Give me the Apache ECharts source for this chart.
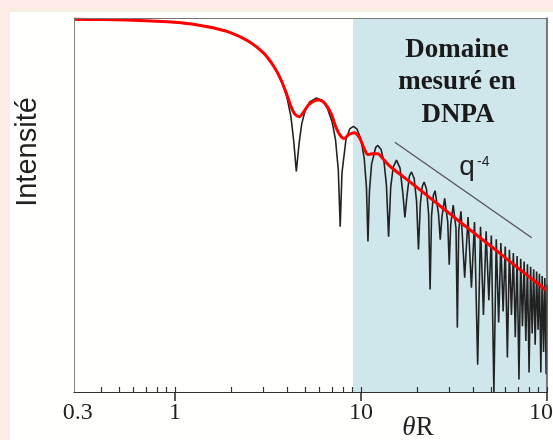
<!DOCTYPE html>
<html><head><meta charset="utf-8">
<script src="https://cdn.jsdelivr.net/npm/echarts@6/dist/echarts.min.js"></script>
<style>html,body{margin:0;padding:0;background:#fdebe5}#c{width:553px;height:440px}</style>
</head><body><div id="c"></div>
<script>
// x: θR (log axis) ; y: log10(Intensité) (no labels on the reference)
const xMin = 0.2864, xMax = 100;
const yMin = -10.08, yMax = 0.03;
const xLabelValues = [0.3, 1, 10, 100];
const majorTicks = [1, 10, 100];
const minorTicks = [0.4,0.5,0.6,0.7,0.8,0.9,1,2,3,4,5,6,7,8,9,10,20,30,40,50,60,70,80,90,100];
const shadeFrom = 9.06, shadeTo = 100;
const yTitle = 'Intensité';
const panelLines = ['Domaine', 'mesuré en', 'DNPA'];
const slopeLabel = 'q', slopeExp = '-4';

// black curve (oscillating), [θR, log10 I]
const blackCurve = [
 [0.29,-0.007],[0.5,-0.022],[0.7,-0.043],[1.0,-0.088],[1.3,-0.151],[1.5,-0.202],[1.8,-0.296],[2.0,-0.370],
 [2.3,-0.501],[2.6,-0.659],[3.0,-0.923],[3.3,-1.174],[3.6,-1.494],[3.8,-1.766],[4.0,-2.120],[4.2,-2.636],
 [4.35,-3.308],[4.49,-4.12],[4.65,-3.35],[4.8,-2.831],[5.0,-2.487],[5.3,-2.239],[5.76,-2.129],[6.2,-2.207],
 [6.6,-2.413],[7.0,-2.787],[7.3,-3.274],[7.55,-4.08],[7.73,-5.61],[7.9,-4.16],[8.3,-3.257],[8.7,-2.970],
 [9.1,-2.897],[9.5,-2.966],[10.0,-3.256],[10.4,-3.749],[10.7,-4.556],[10.9,-6.01],[11.1,-4.652],[11.4,-3.92],
 [12.0,-3.465],[12.32,-3.415],[12.8,-3.515],[13.3,-3.86],[13.7,-4.487],[14.07,-5.88],[14.45,-4.54],[14.9,-4.00],
 [15.51,-3.814],[16.2,-4.023],[16.8,-4.725],[17.22,-5.36],[17.65,-4.796],[18.2,-4.247],[18.69,-4.132],[19.3,-4.301],
 [19.9,-4.928],[20.37,-6.23],[20.85,-4.996],[21.35,-4.526],[21.85,-4.404],[22.5,-4.594],[23.1,-5.28],[23.52,-7.31],
 [23.95,-5.32],[24.5,-4.763],[25.01,-4.639],[26.12,-5.28],[26.67,-5.96],[27.22,-5.36],[28.17,-4.845],[29.26,-5.48],
 [29.81,-6.64],[30.36,-5.55],[31.32,-5.029],[32.41,-5.66],[32.96,-8.34],[33.51,-5.72],[34.47,-5.196],[36.10,-6.99],
 [37.62,-5.348],[39.24,-7.26],[40.77,-5.487],[42.39,-9.34],[43.91,-5.616],[45.53,-8.0],[47.06,-5.736],[48.67,-7.6],
 [50.21,-5.849],[51.82,-10.08],[53.35,-5.954],[54.96,-8.2],[56.49,-6.054],[58.10,-7.9],[59.64,-6.148],[61.24,-9.15],
 [62.78,-6.237],[64.39,-8.0],[65.93,-6.322],[67.53,-8.6],[69.07,-6.403],[70.67,-9.74],[72.21,-6.480],[73.81,-8.3],
 [75.35,-6.554],[76.96,-8.7],[78.50,-6.626],[80.10,-9.55],[81.64,-6.694],[83.24,-8.5],[84.78,-6.759],[86.38,-8.8],
 [87.93,-6.822],[89.52,-8.4],[91.07,-6.884],[92.67,-9.55],[94.21,-6.942],[95.81,-9.0],[97.35,-6.999],[98.95,-9.6],
 [100,-7.17]
];

// red curve (smeared), [θR, log10 I]
const redCurve = [
 [0.29,-0.005],[0.4,-0.012],[0.6,-0.031],[0.8,-0.056],[1.0,-0.087],[1.3,-0.15],[1.6,-0.235],[2.0,-0.37],
 [2.5,-0.603],[3.0,-0.92],[3.4,-1.28],[3.7,-1.62],[4.0,-2.05],[4.2,-2.36],[4.4,-2.56],[4.65,-2.64],
 [4.9,-2.52],[5.2,-2.33],[5.6,-2.21],[5.95,-2.19],[6.4,-2.28],[6.9,-2.55],[7.3,-2.9],[7.7,-3.13],
 [8.1,-3.23],[8.6,-3.12],[9.2,-3.07],[9.8,-3.2],[10.4,-3.5],[10.9,-3.66],[11.5,-3.64],[12.3,-3.64],
 [13.2,-3.79],[14.2,-3.96],[15.5,-4.12],[17.0,-4.27],[20,-4.55],[25,-4.94],[30,-5.26],[40,-5.76],
 [50,-6.14],[60,-6.46],[70,-6.73],[80,-6.96],[90,-7.16],[100,-7.35]
];

// q^-4 guide line, [θR, log10 I]
const slopeLine = [[15.2,-3.33],[82.8,-5.91]];

const serif = '"Liberation Serif", "Times New Roman", serif';
const sans = '"Liberation Sans", Arial, sans-serif';

const chart = echarts.init(document.getElementById('c'), null, {renderer: 'canvas', width: 553, height: 440});

const hiddenX = (extra) => Object.assign({
  type: 'log', min: xMin, max: xMax, gridIndex: 0, z: 5,
  axisLine: {show: false, onZero: false}, axisTick: {show: false}, axisLabel: {show: false},
  splitLine: {show: false}, minorTick: {show: false}, minorSplitLine: {show: false}
}, extra);

const option = {
  backgroundColor: '#fdebe5',
  animation: false,
  grid: {left: 74, right: 6, top: 18, bottom: 48, containLabel: false, outerBoundsMode: 'none'},
  xAxis: [
    hiddenX({
      position: 'bottom',
      axisLine: {show: true, onZero: false, lineStyle: {color: '#333', width: 1.2}},
      axisTick: {show: true, inside: false, length: 9, customValues: majorTicks, lineStyle: {color: '#222', width: 1.5}},
      axisLabel: {show: true, customValues: xLabelValues, margin: 9, fontFamily: serif, fontSize: 24, color: '#222',
                  hideOverlap: false, formatter: v => String(v)}
    }),
    hiddenX({
      position: 'bottom',
      axisTick: {show: true, inside: true, length: 5, customValues: minorTicks, lineStyle: {color: '#333', width: 1.2}}
    }),
    hiddenX({
      position: 'top',
      axisLine: {show: true, onZero: false, lineStyle: {color: '#777', width: 1}}
    })
  ],
  yAxis: [
    {type: 'value', min: yMin, max: yMax, position: 'left', z: 5,
     axisLine: {show: true, onZero: false, lineStyle: {color: '#888', width: 1}},
     axisTick: {show: false}, axisLabel: {show: false}, splitLine: {show: false}},
    {type: 'value', min: yMin, max: yMax, position: 'right', z: 5,
     axisLine: {show: true, onZero: false, lineStyle: {color: '#555', width: 1.5}},
     axisTick: {show: false}, axisLabel: {show: false}, splitLine: {show: false}}
  ],
  series: [
    {type: 'line', name: 'sphère', data: blackCurve, symbol: 'none', z: 2,
     lineStyle: {color: '#222', width: 1.6},
     markArea: {silent: true, z: 1, itemStyle: {color: '#cfe6ea', opacity: 1},
                data: [[{xAxis: shadeFrom}, {xAxis: shadeTo}]]}},
    {type: 'line', name: 'q-4', data: slopeLine, symbol: 'none', z: 2,
     lineStyle: {color: '#555', width: 1.3}},
    {type: 'line', name: 'lissée', data: redCurve, symbol: 'none', smooth: 0.3, z: 3,
     lineStyle: {color: '#ff0000', width: 3}}
  ],
  graphic: [
    {type: 'rect', z: -10, shape: {x: 10, y: 10, width: 543, height: 430}, style: {fill: '#fffffe'}},
    {type: 'rect', z: -9, shape: {x: 10, y: 10, width: 543, height: 2}, style: {fill: '#f3f0e0'}},
    {type: 'text', z: 10, x: 28, y: 152, rotation: Math.PI / 2,
     style: {text: yTitle, font: '29px ' + sans, fill: '#222', align: 'center', verticalAlign: 'middle'}},
    {type: 'text', z: 10, x: 457, y: 50, style: {text: panelLines[0], font: 'bold 27px ' + serif, fill: '#1a1a1a', align: 'center', verticalAlign: 'middle'}},
    {type: 'text', z: 10, x: 457, y: 82, style: {text: panelLines[1], font: 'bold 27px ' + serif, fill: '#1a1a1a', align: 'center', verticalAlign: 'middle'}},
    {type: 'text', z: 10, x: 458, y: 115, style: {text: panelLines[2], font: 'bold 27px ' + serif, fill: '#1a1a1a', align: 'center', verticalAlign: 'middle'}},
    {type: 'text', z: 10, x: 467, y: 167, style: {text: slopeLabel, font: '28px ' + sans, fill: '#222', align: 'center', verticalAlign: 'middle'}},
    {type: 'text', z: 10, x: 477, y: 162, style: {text: slopeExp, font: '14px ' + sans, fill: '#222', align: 'left', verticalAlign: 'middle'}},
    {type: 'text', z: 10, x: 418, y: 428, style: {
      text: '{i|θ}{r|R}', align: 'center', verticalAlign: 'middle',
      rich: {i: {fontStyle: 'italic', fontSize: 27, fontFamily: serif, fill: '#222'},
             r: {fontSize: 27, fontFamily: serif, fill: '#222'}}}}
  ]
};
chart.setOption(option);
</script>
</body></html>
